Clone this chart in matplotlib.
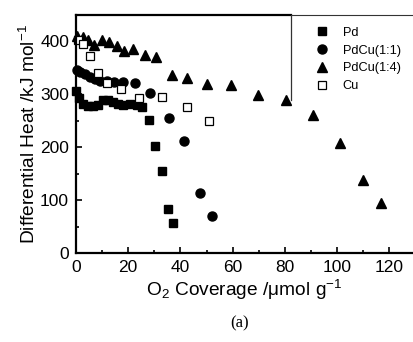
import matplotlib
matplotlib.use("Agg")
import matplotlib.pyplot as plt
from matplotlib.ticker import MultipleLocator

plt.rcParams['font.family'] = ['Liberation Sans', 'DejaVu Sans']
plt.rcParams['mathtext.default'] = 'regular'

pd_x = [0.0, 1.1, 2.8, 4.7, 6.6, 8.5, 10.4, 12.4, 14.3, 16.2, 18.1, 20.7, 23.2, 25.1, 27.9, 30.3, 33.0, 35.4, 37.0]
pd_y = [305, 292, 282, 277, 277, 279, 289, 289, 285, 282, 279, 282, 279, 276, 251, 202, 155, 83, 57]

pdcu11_x = [0.3, 1.6, 3.4, 5.4, 7.3, 9.2, 11.7, 14.6, 18.1, 22.4, 28.5, 35.7, 41.2, 47.4, 52.1]
pdcu11_y = [345, 341, 337, 332, 328, 325, 324, 323, 323, 320, 302, 255, 211, 114, 70]

pdcu14_x = [0.5, 2.6, 4.7, 6.8, 9.8, 12.6, 15.7, 18.5, 22.0, 26.4, 30.5, 36.6, 42.6, 50.2, 59.4, 69.7, 80.3, 90.7, 101.0, 110.0, 116.9]
pdcu14_y = [410, 408, 401, 393, 402, 399, 390, 381, 385, 374, 369, 335, 331, 319, 317, 299, 289, 260, 207, 138, 95]

cu_x = [0.6, 2.8, 5.5, 8.4, 12.0, 17.1, 24.2, 33.1, 42.6, 50.9]
cu_y = [401, 395, 372, 339, 321, 310, 293, 295, 276, 249]

labels = ['Pd', 'PdCu(1:1)', 'PdCu(1:4)', 'Cu']

fig = plt.figure(figsize=(4.13, 3.42), dpi=100)
ax = fig.add_axes([0.184, 0.260, 0.816, 0.6976])

ax.plot(pd_x, pd_y, 's', color='black', ms=6, mec='black', label=labels[0], clip_on=False)
ax.plot(pdcu11_x, pdcu11_y, 'o', color='black', ms=6.5, label=labels[1], clip_on=False)
ax.plot(pdcu14_x, pdcu14_y, '^', color='black', ms=7.5, label=labels[2], clip_on=False)
ax.plot(cu_x, cu_y, 's', mfc='white', mec='black', mew=0.9, ms=6, label=labels[3], clip_on=False)

ax.set_xlim(0, 129)
ax.set_ylim(0, 450)
ax.xaxis.set_major_locator(MultipleLocator(20))
ax.xaxis.set_minor_locator(MultipleLocator(10))
ax.yaxis.set_major_locator(MultipleLocator(100))
ax.yaxis.set_minor_locator(MultipleLocator(50))
ax.set_yticks([0, 100, 200, 300, 400])
ax.tick_params(which='both', direction='in', labelsize=12.5, width=1.2)
ax.tick_params(which='major', length=4, pad=5)
ax.tick_params(which='minor', length=2.5)

ax.spines['right'].set_visible(False)
ax.spines['top'].set_visible(False)
ax.spines['left'].set_linewidth(1.6)
ax.spines['bottom'].set_linewidth(1.6)

# top border: thick part up to the legend box, thin part across legend box
lx = 0.638
ax.plot([0, lx], [1, 1], color='black', lw=1.6, transform=ax.transAxes, clip_on=False)
ax.plot([lx, 1], [1, 1], color='#333333', lw=0.8, transform=ax.transAxes, clip_on=False)
ax.plot([lx, lx], [0.642, 1], color='#333333', lw=0.9, transform=ax.transAxes, clip_on=False)

ax.set_xlabel('O$_2$ Coverage /μmol g$^{-1}$', fontsize=13.8, labelpad=2)
ax.set_ylabel('Differential Heat /kJ mol$^{-1}$', fontsize=13.8, labelpad=1)

leg = ax.legend(loc='upper left', bbox_to_anchor=(0.697, 0.97), frameon=False,
                fontsize=9.2, handlelength=1.0, handletextpad=1.1, labelspacing=0.45,
                borderaxespad=0)

fig.text(0.581, 0.055, '(a)', fontsize=12, family=['Liberation Serif', 'DejaVu Serif'],
         ha='center', va='center')

fig.savefig('out.png', dpi=100)
